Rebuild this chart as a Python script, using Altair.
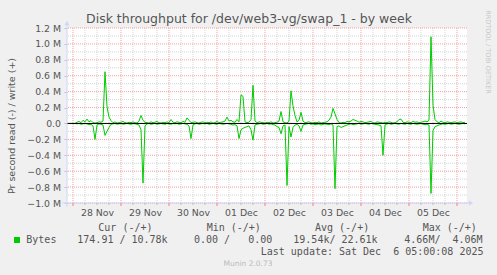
import altair as alt
import pandas as pd

# ---------------- data ----------------
start_time = "2025-11-27 21:00"
n_points = 200  # hourly samples

# write (+) in kB/s, hourly
write_k = [
    0, 0, 0, 0, 0, 15, 25, 10, 40, 20,
    55, 20, 35, 10, 5, 10, 20, 15, 30, 650,
    210, 80, 35, 10, 20, 5, 10, 15, 25, 10,
    5, 15, 10, 20, 10, 5, 30, 100, 40, 15,
    10, 5, 20, 10, 15, 25, 10, 5, 15, 10,
    20, 10, 50, 15, 10, 20, 15, 10, 25, 15,
    70, 40, 10, 15, 20, 10, 5, 15, 20, 10,
    15, 10, 20, 5, 10, 25, 10, 15, 20, 30,
    80, 30, 40, 20, 15, 50, 20, 360, 340, 20,
    10, 15, 50, 480, 30, 10, 20, 15, 10, 5,
    15, 10, 20, 5, 10, 15, 30, 150, 20, 10,
    5, 30, 410, 220, 100, 20, 40, 140, 30, 10,
    15, 20, 10, 5, 15, 10, 20, 5, 10, 15,
    20, 40, 80, 190, 120, 50, 10, 5, 15, 10,
    25, 20, 30, 50, 40, 30, 15, 25, 20, 10,
    15, 20, 25, 10, 5, 20, 15, 10, 5, 15,
    10, 20, 15, 5, 10, 20, 50, 55, 15, 10,
    20, 15, 10, 25, 15, 20, 10, 15, 20, 30,
    20, 40, 1090, 230, 50, 20, 10, 30, 15, 10,
    20, 15, 10, 15, 20, 10, 15, 20, 10, 15,
]
# read (-) in kB/s, hourly (plotted negative)
read_k = [
    0, 0, 0, 0, 0, 5, 0, 10, 5, 0,
    5, 15, 10, 30, 200, 20, 5, 10, 20, 150,
    100, 50, 10, 5, 0, 10, 5, 0, 10, 5,
    0, 5, 10, 0, 5, 10, 20, 80, 750, 30,
    5, 0, 10, 5, 0, 10, 5, 0, 5, 10,
    0, 5, 10, 0, 5, 0, 10, 5, 0, 5,
    10, 30, 190, 20, 5, 0, 10, 5, 0, 5,
    0, 10, 5, 0, 5, 10, 0, 5, 10, 5,
    0, 5, 10, 20, 15, 30, 190, 80, 60, 50,
    40, 30, 80, 210, 20, 10, 5, 0, 10, 5,
    0, 10, 5, 15, 20, 40, 50, 130, 30, 20,
    780, 40, 170, 50, 20, 10, 30, 100, 20, 10,
    5, 0, 10, 5, 15, 10, 5, 20, 10, 5,
    10, 15, 5, 20, 820, 40, 30, 50, 40, 30,
    20, 10, 5, 15, 10, 5, 0, 10, 5, 0,
    5, 10, 0, 5, 10, 15, 20, 30, 400, 20,
    5, 0, 10, 5, 0, 5, 10, 0, 5, 10,
    0, 5, 10, 0, 5, 10, 5, 0, 10, 15,
    10, 20, 880, 90, 40, 30, 20, 10, 5, 10,
    5, 0, 10, 5, 0, 5, 10, 5, 0, 5,
]

day_labels = ["2025-11-28", "2025-11-29", "2025-11-30", "2025-12-01",
              "2025-12-02", "2025-12-03", "2025-12-04", "2025-12-05"]
day_lines = day_labels + ["2025-12-06"]
y_major = [-1.0e6, -0.8e6, -0.6e6, -0.4e6, -0.2e6, 0.0, 0.2e6, 0.4e6,
           0.6e6, 0.8e6, 1.0e6, 1.2e6]
y_minor = [-0.9e6, -0.7e6, -0.5e6, -0.3e6, -0.1e6, 0.1e6, 0.3e6, 0.5e6,
           0.7e6, 0.9e6, 1.1e6]

legend_heads = ["Cur (-/+)", "Min (-/+)", "Avg (-/+)", "Max (-/+)"]
legend_vals = ["174.91 / 10.78k", "0.00 /   0.00", "19.54k/ 22.61k", "4.66M/  4.06M"]
series_name = "Bytes"
last_update = "Last update: Sat Dec  6 05:00:08 2025"

# ---------------- tables ----------------
times = pd.date_range(start_time, periods=n_points, freq="h")
tstr = [t.strftime("%Y-%m-%dT%H:%M:%SZ") for t in times]
df = pd.concat([
    pd.DataFrame({"t": tstr, "v": [w * 1000 for w in write_k], "s": "write"}),
    pd.DataFrame({"t": tstr, "v": [-r * 1000 for r in read_k], "s": "read"}),
])

minor_t = pd.date_range("2025-11-28 06:00", "2025-12-06 00:00", freq="6h")
minor_t = [t for t in minor_t if t.hour != 0]
df_minor_x = pd.DataFrame({"t": [t.strftime("%Y-%m-%dT%H:%M:%SZ") for t in minor_t]})
df_major_x = pd.DataFrame({"t": [d + "T00:00:00Z" for d in day_lines]})
df_minor_y = pd.DataFrame({"v": y_minor})
df_major_y = pd.DataFrame({"v": y_major})

W, H = 400, 175
PL, PT = 67, 28
FONT = "DejaVu Sans"
MONO = "DejaVu Sans Mono"
TXT = "#555555"
GREEN = "#00cc00"

xscale = alt.Scale(type="utc",
                   domain=[alt.DateTime(year=2025, month=11, date=27, hours=21, utc=True),
                           alt.DateTime(year=2025, month=12, date=6, hours=5, utc=True)])
yscale = alt.Scale(domain=[-1.0e6, 1.2e6], nice=False, zero=False)

label_vals = [alt.DateTime(year=int(d[:4]), month=int(d[5:7]), date=int(d[8:10]),
                           hours=12, utc=True) for d in day_labels]

xaxis = alt.Axis(values=label_vals, labelExpr="utcFormat(datum.value, '%d %b')",
                 ticks=False, domain=False, grid=False, labelPadding=5, title=None,
                 labelFont=FONT, labelFontSize=9.33, labelColor=TXT)
yaxis = alt.Axis(values=y_major,
                 labelExpr="datum.value == 0 ? '0.0' : format(datum.value / 1e6, '.1f') + ' M'",
                 tickSize=3, tickColor="#c0c0c0", domain=False, grid=False, title=None,
                 labelPadding=3.5, labelFont=FONT, labelFontSize=9.33, labelColor=TXT)

X = alt.X("t:T", scale=xscale, axis=xaxis, title=None)
Y = alt.Y("v:Q", scale=yscale, axis=yaxis, title=None)

dummy = alt.Data(values=[{}])


def txt(s, x, y, size=9.33, font=FONT, color=TXT, align="left", angle=0, baseline="alphabetic"):
    return alt.Chart(dummy).mark_text(
        text=s.replace("  ", "\u00a0\u00a0").replace("\u00a0 ", "\u00a0\u00a0"),
        font=font, fontSize=size, color=color, align=align, angle=angle,
        baseline=baseline,
    ).encode(x=alt.value(x - PL), y=alt.value(y - PT))


grid_minor_x = alt.Chart(df_minor_x).mark_rule(color="#d4d4d4", strokeDash=[1, 1], strokeWidth=1).encode(x=X)
grid_minor_y = alt.Chart(df_minor_y).mark_rule(color="#d4d4d4", strokeDash=[1, 1], strokeWidth=1).encode(y=Y)
grid_major_x = alt.Chart(df_major_x).mark_rule(color="#f2a0a0", strokeDash=[1, 1], strokeWidth=1).encode(x=X)
grid_major_y = alt.Chart(df_major_y).mark_rule(color="#f2a0a0", strokeDash=[1, 1], strokeWidth=1).encode(y=Y)
tick_major_x = alt.Chart(df_major_x).mark_rule(color="#f08080", strokeWidth=1).encode(
    x=X, y=alt.value(H), y2=alt.value(H + 3))
tick_minor_x = alt.Chart(df_minor_x).mark_rule(color="#c0c0c0", strokeWidth=1).encode(
    x=X, y=alt.value(H), y2=alt.value(H + 2))

lines = alt.Chart(df).mark_line(strokeWidth=1, color=GREEN, clip=True).encode(
    x=X, y=Y, detail="s:N",
)

zero = alt.Chart(alt.Data(values=[{"v": 0}])).mark_rule(color="#000000", strokeWidth=1).encode(y=Y)

axis_color = "#cfd6f8"
x_axis_line = alt.Chart(dummy).mark_rule(color=axis_color, strokeWidth=1).encode(
    x=alt.value(-5), x2=alt.value(W + 3), y=alt.value(H))
y_axis_line = alt.Chart(dummy).mark_rule(color=axis_color, strokeWidth=1).encode(
    x=alt.value(0), y=alt.value(H + 4), y2=alt.value(-4))
x_arrow = alt.Chart(dummy).mark_point(shape="triangle-right", filled=True, color=axis_color, size=25, opacity=1).encode(
    x=alt.value(W + 4), y=alt.value(H))
y_arrow = alt.Chart(dummy).mark_point(shape="triangle-up", filled=True, color=axis_color, size=25, opacity=1).encode(
    x=alt.value(0), y=alt.value(-5))

texts = [
    txt("Disk throughput for /dev/web3-vg/swap_1 - by week", 249, 22.5, size=12.5, align="center"),
    txt("Pr second read (-) / write (+)", 14.5, 126, size=9.5, align="center", angle=270),
    txt("RRDTOOL / TOBI OETIKER", 486, 52, size=6.5, color="#c8c8c8", align="center", angle=90),
    txt(legend_heads[0], 98.3, 230.6, size=10, font=MONO),
    txt(legend_heads[1], 206.7, 230.6, size=10, font=MONO),
    txt(legend_heads[2], 315, 230.6, size=10, font=MONO),
    txt(legend_heads[3], 422.7, 230.6, size=10, font=MONO),
    txt(series_name, 26.3, 243, size=10, font=MONO),
    txt(legend_vals[0], 77.3, 243, size=10, font=MONO),
    txt(legend_vals[1], 194, 243, size=10, font=MONO),
    txt(legend_vals[2], 293.3, 243, size=10, font=MONO),
    txt(legend_vals[3], 404.3, 243, size=10, font=MONO),
    txt(last_update, 483.5, 255, size=10, font=MONO, align="right"),
    txt("Munin 2.0.73", 248, 266, size=7.5, color="#bbbbbb", align="center"),
]

legend_box = alt.Chart(dummy).mark_point(shape="square", filled=True, color=GREEN, size=36, opacity=1).encode(
    x=alt.value(17 - PL), y=alt.value(240 - PT))

chart = alt.layer(
    grid_minor_x, grid_minor_y, grid_major_x, grid_major_y,
    lines, zero, x_axis_line, y_axis_line, x_arrow, y_arrow,
    tick_major_x, tick_minor_x, legend_box, *texts,
).properties(
    width=W, height=H,
    autosize=alt.AutoSizeParams(type="none"),
    padding={"left": PL, "top": PT, "right": 497 - PL - W, "bottom": 275 - PT - H},
    background="#f0f0f0",
).configure_view(stroke=None, fill="#ffffff")

chart.save("out.html", embed_options={"renderer": "svg", "actions": False})
